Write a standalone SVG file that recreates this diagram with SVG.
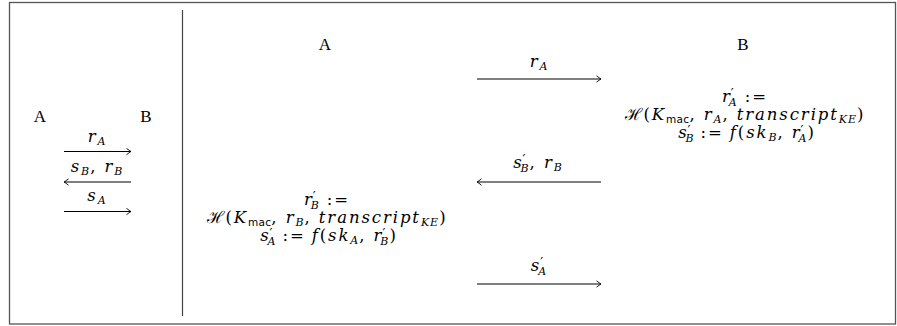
<svg xmlns="http://www.w3.org/2000/svg" width="897" height="326" viewBox="0 0 897 326">
<defs>
<marker id="ah" viewBox="-6 -4 8 8" markerWidth="8" markerHeight="8" refX="0" refY="0" orient="auto" markerUnits="userSpaceOnUse">
<path d="M-4.5,-3.2 Q-1.5,-0.8 0,0 Q-1.5,0.8 -4.5,3.2" fill="none" stroke="#000" stroke-width="0.9"/>
</marker>
</defs>
<style>
.rm{font-family:"Liberation Serif","DejaVu Serif",serif;font-size:17px;fill:#000}
.m{font-family:"DejaVu Serif","Liberation Serif",serif;font-style:italic;font-size:16.5px;letter-spacing:1.9px;fill:#000}
.s{font-size:11px;letter-spacing:1px}
.p{font-family:"DejaVu Sans",sans-serif;font-style:normal;font-size:13px;letter-spacing:0}
.up{font-style:normal}
.sf{font-family:"DejaVu Sans","Liberation Sans",sans-serif;font-style:normal;font-size:10.5px;letter-spacing:0.3px}
.ar{stroke:#000;stroke-width:1;fill:none;marker-end:url(#ah)}
.frame{fill:#fff;stroke:#555;stroke-width:1.3}
</style>
<rect class="frame" x="9.5" y="2.5" width="886" height="321.5"/>
<line x1="182.5" y1="10" x2="182.5" y2="316" stroke="#444" stroke-width="1.2"/>

<g id="left-A"><text class="rm" x="40" y="122" text-anchor="middle">A</text></g>
<g id="left-B"><text class="rm" x="146" y="122" text-anchor="middle">B</text></g>
<g id="right-A"><text class="rm" x="325" y="50" text-anchor="middle">A</text></g>
<g id="right-B"><text class="rm" x="743" y="50" text-anchor="middle">B</text></g>

<g id="comp-B">
<text class="m" x="745" y="102" text-anchor="middle">r<tspan class="p" dx="-1" dy="-5">′</tspan><tspan class="s" dx="-5" dy="9">A</tspan><tspan class="up" dx="7" dy="-4">:=</tspan></text>
<text class="m" x="745" y="120" text-anchor="middle"><tspan class="up">ℋ(</tspan>K<tspan class="sf" dy="3">mac</tspan><tspan class="up" dy="-3">, </tspan>r<tspan class="s" dy="3">A</tspan><tspan class="up" dy="-3">, </tspan>transcript<tspan class="s" dy="3">KE</tspan><tspan class="up" dy="-3">)</tspan></text>
<text class="m" x="747" y="138" text-anchor="middle">s<tspan class="p" dx="-1" dy="-4">′</tspan><tspan class="s" dx="-5" dy="8">B</tspan><tspan class="up" dx="6" dy="-4">:=</tspan><tspan dx="6">f</tspan><tspan class="up">(</tspan>sk<tspan class="s" dy="3">B</tspan><tspan class="up" dy="-3">, </tspan>r<tspan class="p" dx="-1" dy="-4">′</tspan><tspan class="s" dx="-5" dy="8">A</tspan><tspan class="up" dy="-4">)</tspan></text>
</g>

<g id="comp-A">
<text class="m" x="327" y="205" text-anchor="middle">r<tspan class="p" dx="-1" dy="-5">′</tspan><tspan class="s" dx="-5" dy="9">B</tspan><tspan class="up" dx="7" dy="-4">:=</tspan></text>
<text class="m" x="327" y="223" text-anchor="middle"><tspan class="up">ℋ(</tspan>K<tspan class="sf" dy="3">mac</tspan><tspan class="up" dy="-3">, </tspan>r<tspan class="s" dy="3">B</tspan><tspan class="up" dy="-3">, </tspan>transcript<tspan class="s" dy="3">KE</tspan><tspan class="up" dy="-3">)</tspan></text>
<text class="m" x="329" y="241" text-anchor="middle">s<tspan class="p" dx="-1" dy="-4">′</tspan><tspan class="s" dx="-5" dy="8">A</tspan><tspan class="up" dx="6" dy="-4">:=</tspan><tspan dx="6">f</tspan><tspan class="up">(</tspan>sk<tspan class="s" dy="3">A</tspan><tspan class="up" dy="-3">, </tspan>r<tspan class="p" dx="-1" dy="-4">′</tspan><tspan class="s" dx="-5" dy="8">B</tspan><tspan class="up" dy="-4">)</tspan></text>
</g>

<g id="connectors">
<line class="ar" x1="64" y1="151.5" x2="131" y2="151.5"/>
<line class="ar" x1="131" y1="182" x2="64" y2="182"/>
<line class="ar" x1="64" y1="211.5" x2="131" y2="211.5"/>
<line class="ar" x1="477" y1="79" x2="601" y2="79"/>
<line class="ar" x1="601" y1="182" x2="477" y2="182"/>
<line class="ar" x1="477" y1="284" x2="601" y2="284"/>
<text class="m" x="97" y="142" text-anchor="middle">r<tspan class="s" dy="3">A</tspan></text>
<text class="m" x="97" y="172" text-anchor="middle">s<tspan class="s" dy="3">B</tspan><tspan class="up" dy="-3">, </tspan>r<tspan class="s" dy="3">B</tspan></text>
<text class="m" x="97" y="201" text-anchor="middle">s<tspan class="s" dy="3">A</tspan></text>
<text class="m" x="539" y="67" text-anchor="middle">r<tspan class="s" dy="3">A</tspan></text>
<text class="m" x="538" y="168" text-anchor="middle">s<tspan class="p" dx="-1" dy="-5">′</tspan><tspan class="s" dx="-5" dy="9">B</tspan><tspan class="up" dy="-4">, </tspan>r<tspan class="s" dy="3">B</tspan></text>
<text class="m" x="539" y="271" text-anchor="middle">s<tspan class="p" dx="-1" dy="-5">′</tspan><tspan class="s" dx="-5" dy="9">A</tspan></text>
</g>
</svg>
